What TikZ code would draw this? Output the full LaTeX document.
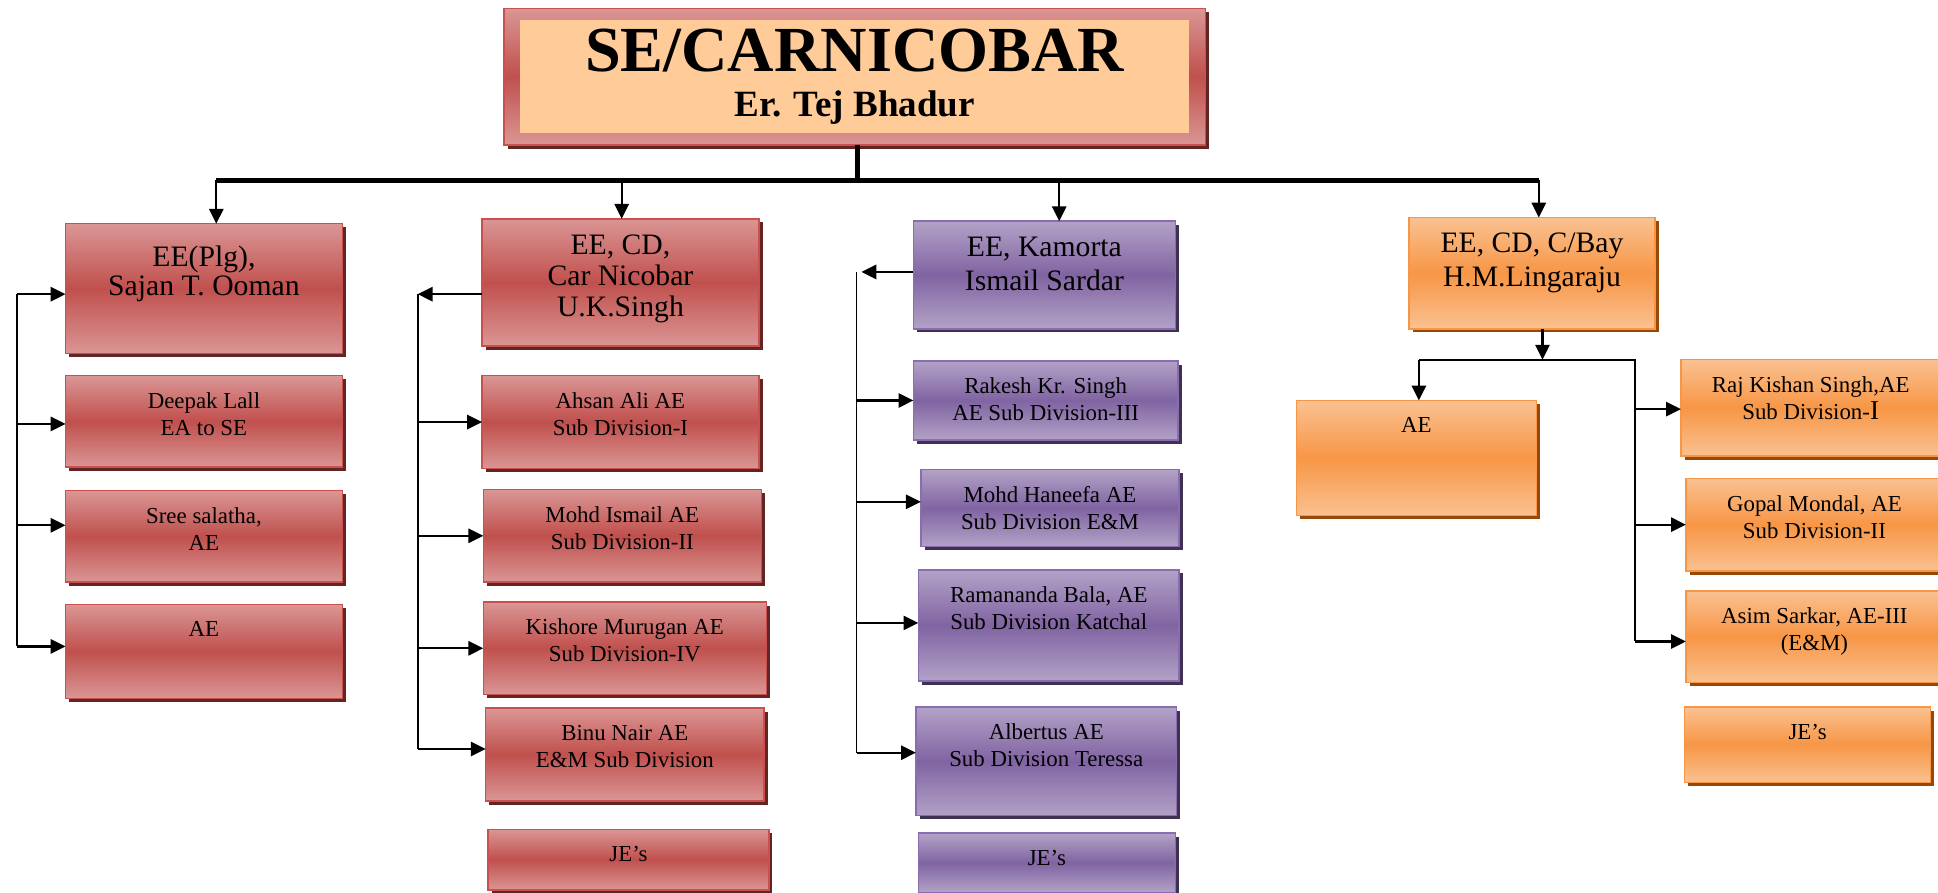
\documentclass[tikz,border=0pt]{standalone}
\usepackage{fontspec}
\setmainfont{Liberation Serif}
\usetikzlibrary{arrows.meta,positioning,fit,backgrounds,shadows}
\definecolor{redmain}{HTML}{C0504D}
\definecolor{redtint}{HTML}{DA9695}
\definecolor{redline}{HTML}{C9504D}
\definecolor{redshade}{HTML}{632523}
\definecolor{purplemain}{HTML}{8064A2}
\definecolor{purpletint}{HTML}{B3A2C7}
\definecolor{purpleline}{HTML}{8A6CB0}
\definecolor{purpleshade}{HTML}{3F3151}
\definecolor{orangemain}{HTML}{F79646}
\definecolor{orangetint}{HTML}{FAC191}
\definecolor{orangeline}{HTML}{F79646}
\definecolor{orangeshade}{HTML}{984807}
\definecolor{peach}{HTML}{FFCC99}

\begin{document}
\begin{tikzpicture}[
    x=1pt, y=-1pt,
    font=\fontsize{18.5}{22}\selectfont,
    box/.style={draw, line width=1.2pt, inner sep=0pt, outer sep=0pt},
    redbox/.style={box, draw=redline, top color=redtint, bottom color=redtint, middle color=redmain,
      drop shadow={shadow xshift=3pt, shadow yshift=-3pt, fill=redshade, opacity=1}},
    purplebox/.style={box, draw=purpleline, top color=purpletint, bottom color=purpletint, middle color=purplemain,
      drop shadow={shadow xshift=3pt, shadow yshift=-3pt, fill=purpleshade, opacity=1}},
    orangebox/.style={box, draw=orangeline, top color=orangetint, bottom color=orangetint, middle color=orangemain,
      drop shadow={shadow xshift=3pt, shadow yshift=-3pt, fill=orangeshade, opacity=1}},
    txt/.style={anchor=north, align=center, inner sep=0pt, yshift=-13.5pt},
    headtxt/.style={txt, yshift=0.5pt, font=\fontsize{24}{#1}\selectfont},
    arrow/.style={-{Triangle[length=12pt,width=11.5pt]}, line width=1.8pt},
    spine/.style={line width=1.5pt},
    bus/.style={line width=4pt}
]
  \useasboundingbox (0,0) rectangle (1568,722);

  % SE box
  \node[inner sep=0pt, fill=peach, minimum width=541pt, minimum height=92pt, align=center,
        font=\bfseries\fontsize{30}{37}\selectfont] (se) at (691.5,62)
        {{\fontsize{52}{40}\selectfont SE/CARNICOBAR}\\Er. Tej Bhadur};
  \begin{scope}[on background layer]
    \node[redbox, fit=(se), inner xsep=13pt, inner ysep=9pt] (seframe) {};
  \end{scope}

  % column 1
  \node[redbox, minimum width=224pt, minimum height=105pt,
        label={[headtxt=23pt, yshift=-5pt]north:{EE(Plg),\\Sajan T. Ooman}}] (ee1) at (165,233.5) {};
  \node[redbox, below=18pt of ee1, minimum width=224pt, minimum height=74pt,
        label={[txt]north:{Deepak Lall\\EA to SE}}] (dlall) {};
  \node[redbox, below=19pt of dlall, minimum width=224pt, minimum height=74pt,
        label={[txt]north:{Sree salatha,\\AE}}] (sree) {};
  \node[redbox, below=18pt of sree, minimum width=224pt, minimum height=76pt,
        label={[txt]north:AE}] (ae1) {};

  % column 2
  \node[redbox, minimum width=224pt, minimum height=103pt,
        label={[headtxt=25pt]north:{EE, CD,\\Car Nicobar\\U.K.Singh}}] (ee2) at (502,228.5) {};
  \node[redbox, below=24pt of ee2, minimum width=224pt, minimum height=75pt,
        label={[txt]north:{Ahsan Ali AE\\Sub Division-I}}] (ahsan) {};
  \node[redbox, below=17pt of ahsan, xshift=1.5pt, minimum width=225pt, minimum height=75pt,
        label={[txt]north:{Mohd Ismail AE\\Sub Division-II}}] (mismail) {};
  \node[redbox, below=16pt of mismail, xshift=2pt, minimum width=229pt, minimum height=75pt,
        label={[txt]north:{Kishore Murugan AE\\Sub Division-IV}}] (kishore) {};
  \node[redbox, below=11pt of kishore, minimum width=225pt, minimum height=75pt,
        label={[txt]north:{Binu Nair AE\\E\&M Sub Division}}] (binu) {};
  \node[redbox, below=23pt of binu, xshift=3pt, minimum width=227pt, minimum height=49pt,
        label={[txt]north:{JE’s}}] (je2) {};

  % column 3
  \node[purplebox, minimum width=212pt, minimum height=87pt,
        label={[headtxt=27pt]north:{EE, Kamorta\\Ismail Sardar}}] (ee3) at (845,222.5) {};
  \node[purplebox, below=26pt of ee3, xshift=1pt, minimum width=214pt, minimum height=64pt,
        label={[txt]north:{Rakesh Kr. Singh\\AE Sub Division-III}}] (rakesh) {};
  \node[purplebox, below=24pt of rakesh, xshift=3.5pt, minimum width=209pt, minimum height=62pt,
        label={[txt]north:{Mohd Haneefa AE\\Sub Division E\&M}}] (haneefa) {};
  \node[purplebox, below=19pt of haneefa, xshift=-1pt, minimum width=211pt, minimum height=90pt,
        label={[txt]north:{Ramananda Bala, AE\\Sub Division Katchal}}] (rbala) {};
  \node[purplebox, below=21pt of rbala, xshift=-2pt, minimum width=211pt, minimum height=88pt,
        label={[txt]north:{Albertus AE\\Sub Division Teressa}}] (albertus) {};
  \node[purplebox, below=14pt of albertus, xshift=0.5pt, minimum width=208pt, minimum height=48pt,
        label={[txt]north:{JE’s}}] (je3) {};

  % column 4
  \node[orangebox, minimum width=199pt, minimum height=90pt,
        label={[headtxt=28pt, yshift=1pt]north:{EE, CD, C/Bay\\H.M.Lingaraju}}] (ee4) at (1239.5,221) {};
  \node[orangebox, minimum width=194pt, minimum height=93pt,
        label={[txt]north:AE}] (ae4) at (1146,370.5) {};
  \node[orangebox, minimum width=210pt, minimum height=78pt,
        label={[txt]north:{Raj Kishan Singh,AE\\Sub Division-{\fontsize{22}{22}\selectfont I}}}] (rks) at (1465,330) {};
  \node[orangebox, below=18pt of rks, xshift=3pt, minimum width=208pt, minimum height=75pt,
        label={[txt]north:{Gopal Mondal, AE\\Sub Division-II}}] (gopal) {};
  \node[orangebox, below=16pt of gopal, minimum width=208pt, minimum height=74pt,
        label={[txt]north:{Asim Sarkar, AE-III\\(E\&M)}}] (asim) {};
  \node[orangebox, below=20pt of asim, xshift=-5.5pt, minimum width=199pt, minimum height=61pt,
        label={[txt]north:{JE’s}}] (je4) {};

  % top bus
  \coordinate (bus) at (694,146);
  \draw[bus] (bus |- seframe.south) -- (bus);
  \draw[bus] ([xshift=10pt]ee1.north |- bus) -- ([xshift=5.5pt]ee4.north |- bus);
  \draw[arrow] ([xshift=10pt]ee1.north |- bus) -- ([xshift=10pt]ee1.north);
  \draw[arrow] ([xshift=1pt]ee2.north |- bus) -- ([xshift=1pt]ee2.north);
  \draw[arrow] ([xshift=12pt]ee3.north |- bus) -- ([xshift=12pt]ee3.north);
  \draw[arrow] ([xshift=5.5pt]ee4.north |- bus) -- ([xshift=5.5pt]ee4.north);

  % column 1 links
  \coordinate (v1) at (14,238);
  \coordinate (v1e) at (14,523);
  \draw[spine] (v1) -- (v1e);
  \draw[arrow] ([yshift=-4.5pt]v1 |- ee1.west) -- ([yshift=-4.5pt]ee1.west);
  \draw[arrow] ([yshift=-2pt]v1 |- dlall.west) -- ([yshift=-2pt]dlall.west);
  \draw[arrow] ([yshift=9pt]v1 |- sree.west) -- ([yshift=9pt]sree.west);
  \draw[arrow] ([yshift=4pt]v1 |- ae1.west) -- ([yshift=4pt]ae1.west);

  % column 2 links
  \coordinate (v2) at (338,238);
  \coordinate (v2e) at (338,606);
  \draw[spine] (v2) -- (v2e);
  \draw[arrow] ([yshift=-9.5pt]ee2.west) -- (v2);
  \draw[arrow] (v2 |- ahsan.west) -- (ahsan.west);
  \draw[arrow] (v2 |- mismail.west) -- (mismail.west);
  \draw[arrow] (v2 |- kishore.west) -- (kishore.west);
  \draw[arrow] ([yshift=4.5pt]v2 |- binu.west) -- ([yshift=4.5pt]binu.west);

  % column 3 links
  \coordinate (v3) at (693,220);
  \coordinate (v3e) at (693,609);
  \draw[spine] (v3) -- (v3e);
  \draw[arrow] ([yshift=2.5pt]ee3.west) -- ([xshift=4pt]v3);
  \draw[arrow] (v3 |- rakesh.west) -- (rakesh.west);
  \draw[arrow] ([yshift=5pt]v3 |- haneefa.west) -- ([yshift=5pt]haneefa.west);
  \draw[arrow] ([yshift=2pt]v3 |- rbala.west) -- ([yshift=2pt]rbala.west);
  \draw[arrow] ([yshift=7pt]v3 |- albertus.west) -- ([yshift=7pt]albertus.west);

  % column 4 links
  \coordinate (v4) at (1323,291);
  \coordinate (v4e) at (1323,519);
  \draw[arrow] ([xshift=8.5pt]ee4.south) -- ([xshift=8.5pt]ee4.south |- v4);
  \draw[spine] ([xshift=2pt]ae4.north |- v4) -- (v4) -- (v4e);
  \draw[arrow] ([xshift=2pt]ae4.north |- v4) -- ([xshift=2pt]ae4.north);
  \draw[arrow] ([yshift=-1pt]v4 |- rks.west) -- ([yshift=-1pt]rks.west);
  \draw[arrow] (v4 |- gopal.west) -- (gopal.west);
  \draw[arrow] ([yshift=-4pt]v4 |- asim.west) -- ([yshift=-4pt]asim.west);
\end{tikzpicture}
\end{document}
